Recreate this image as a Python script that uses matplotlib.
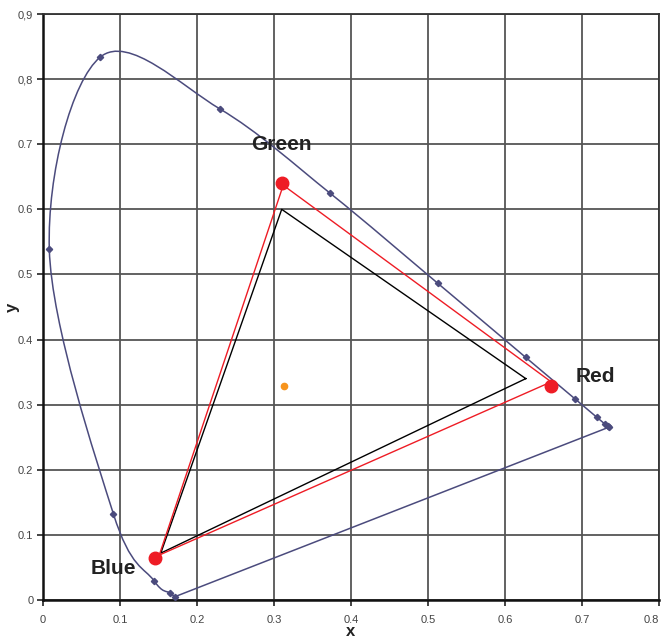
import matplotlib
matplotlib.use("Agg")
import matplotlib.pyplot as plt
from matplotlib.path import Path
from matplotlib.patches import PathPatch
import numpy as np

plt.rcParams['font.family'] = ['Liberation Sans', 'DejaVu Sans']

# Spectral locus points (chromaticity x, y), 420..700 nm
locus_x = [0.1714, 0.1644, 0.1440, 0.0913, 0.0082, 0.0743, 0.2296, 0.3731,
           0.5125, 0.6270, 0.6915, 0.7190, 0.7300, 0.7334, 0.7347]
locus_y = [0.0051, 0.0109, 0.0297, 0.1327, 0.5384, 0.8338, 0.7543, 0.6245,
           0.4866, 0.3725, 0.3083, 0.2809, 0.2700, 0.2666, 0.2653]

# Line of purples
purple_x = [0.1714, 0.7347]
purple_y = [0.0051, 0.2653]

# Red gamut triangle (vertices) and its primary markers
red_tri_x = [0.660, 0.312, 0.151]
red_tri_y = [0.335, 0.637, 0.069]
prim_x = [0.660, 0.310, 0.145]
prim_y = [0.329, 0.640, 0.065]
prim_labels = ["Red", "Green", "Blue"]

# Black gamut triangle
blk_tri_x = [0.627, 0.310, 0.153]
blk_tri_y = [0.340, 0.600, 0.072]

# White point
white_x = [0.313]
white_y = [0.329]

x_ticks = [0, 0.1, 0.2, 0.3, 0.4, 0.5, 0.6, 0.7, 0.8]
x_ticklabels = ["0", "0.1", "0.2", "0.3", "0.4", "0.5", "0.6", "0.7", "0.8"]
y_ticks = [0, 0.1, 0.2, 0.3, 0.4, 0.5, 0.6, 0.7, 0.8, 0.9]
y_ticklabels = ["0", "0.1", "0.2", "0.3", "0.4", "0.5", "0.6", "0.7", "0,8", "0,9"]

locus_col = "#4b4b7d"

fig = plt.figure(figsize=(6.64, 6.43), dpi=100)
ax = fig.add_axes([43/664, 43/643, 616/664, 586/643])
ax.set_xlim(0, 0.8)
ax.set_ylim(0, 0.9)

# Smoothed (Catmull-Rom style cubic Bezier) locus path
pts = np.column_stack([locus_x, locus_y])
n = len(pts)
verts = [tuple(pts[0])]
codes = [Path.MOVETO]
for i in range(n - 1):
    p0 = pts[i - 1] if i > 0 else pts[i]
    p1 = pts[i]
    p2 = pts[i + 1]
    p3 = pts[i + 2] if i + 2 < n else pts[i + 1]
    c1 = p1 + (p2 - p0) / 6.0
    c2 = p2 - (p3 - p1) / 6.0
    verts += [tuple(c1), tuple(c2), tuple(p2)]
    codes += [Path.CURVE4] * 3
ax.add_patch(PathPatch(Path(verts, codes), facecolor='none', edgecolor=locus_col,
                       lw=1.1, zorder=3))
ax.plot(locus_x, locus_y, ls='none', marker='D', ms=3.2, color=locus_col, zorder=4)
ax.plot(purple_x, purple_y, color=locus_col, lw=1.1, zorder=3)

# Triangles
ax.plot(blk_tri_x + blk_tri_x[:1], blk_tri_y + blk_tri_y[:1], color='black', lw=1.0, zorder=5)
ax.plot(red_tri_x + red_tri_x[:1], red_tri_y + red_tri_y[:1], color='#ee1c25', lw=1.0, zorder=6)
ax.plot(prim_x, prim_y, ls='none', marker='o', ms=9, color='#ee1c25', zorder=7)
ax.plot(white_x, white_y, ls='none', marker='o', ms=4.5, color='#f7941d', zorder=7)

# Labels
label_pos = {"Red": (0.718, 0.343), "Green": (0.310, 0.700), "Blue": (0.092, 0.049)}
for lab in prim_labels:
    ax.text(*label_pos[lab], lab, fontsize=15, fontweight='bold', color='#222222',
            ha='center', va='center', zorder=8)

# Grid, ticks
ax.set_xticks(x_ticks)
ax.set_xticklabels(x_ticklabels)
ax.set_yticks(y_ticks)
ax.set_yticklabels(y_ticklabels)
ax.grid(True, color='#555555', lw=1.3, zorder=1)
ax.set_axisbelow(True)
ax.tick_params(direction='out', length=4, width=1.2, colors='#222222',
               labelsize=8, labelcolor='#444444')
ax.tick_params(axis='x', pad=7)
ax.tick_params(axis='y', pad=3)
ax.get_xticklabels()[-1].set_horizontalalignment('right')
for s in ax.spines.values():
    s.set_color('#333333')
    s.set_linewidth(1.3)
ax.spines['left'].set_linewidth(1.8)
ax.spines['bottom'].set_linewidth(1.8)
ax.spines['left'].set_color('#111111')
ax.spines['bottom'].set_color('#111111')

ax.set_xlabel('x', fontsize=12, fontweight='bold', color='#222222')
ax.set_ylabel('y', fontsize=12, fontweight='bold', color='#222222')
ax.xaxis.set_label_coords(308/616, -24/586)
ax.yaxis.set_label_coords(-23/616, 0.5)

fig.savefig('out.png', dpi=100)
